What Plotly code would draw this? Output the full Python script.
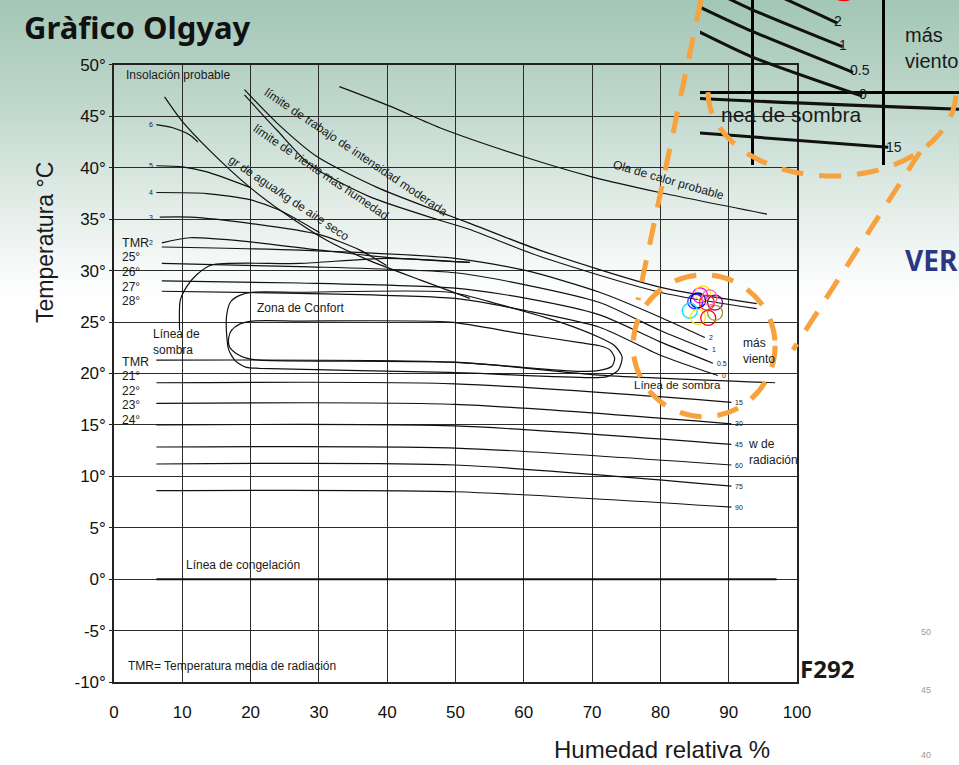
import numpy as np
import plotly.graph_objects as go

# ---------------- datos (x = humedad relativa %, y = temperatura °C) ----------------
x_ticks = list(range(0, 101, 10))
y_ticks = list(range(-10, 51, 5))
y_tick_text = [f"{v}°" for v in y_ticks]

insol_x = [7.4, 9.9, 14.0, 19.9, 24.7, 31.0, 37.0, 44.8, 52.1]
insol_y = [46.9, 44.6, 41.7, 38.1, 35.7, 33.0, 31.1, 29.1, 27.3]

vap6_x = [6.2, 8.6, 11.1, 12.3]
vap6_y = [44.2, 43.9, 43.2, 42.5]
vap5_x = [6.2, 10.0, 13.6, 19.9]
vap5_y = [40.2, 40.1, 39.6, 38.1]
vap4_x = [6.2, 13.6, 19.9, 24.2, 30.1]
vap4_y = [37.6, 37.5, 36.9, 35.9, 33.7]
vap3_x = [6.7, 11.1, 19.9, 30.1, 36.0, 39.9]
vap3_y = [35.2, 35.2, 34.6, 33.5, 32.0, 30.5]
vap2_x = [7.0, 11.1, 19.9, 30.1, 39.9, 52.1]
vap2_y = [32.7, 33.2, 32.8, 32.0, 31.3, 30.8]

lim_trabajo_x = [19.1, 23.8, 29.7, 38.5, 48.1, 52.1, 62.3, 79.9, 94.1]
lim_trabajo_y = [47.6, 44.4, 41.1, 38.1, 35.6, 34.6, 32.0, 28.4, 26.8]
lim_viento_x = [19.1, 23.8, 28.9, 37.4, 47.7, 52.1, 62.3, 79.9, 94.1]
lim_viento_y = [47.1, 43.7, 40.2, 37.2, 34.9, 34.0, 31.4, 27.9, 26.3]

ola_x = [33.0, 40.4, 47.7, 59.9, 70.1, 79.9, 95.6]
ola_y = [47.9, 46.0, 43.9, 41.1, 39.1, 37.6, 35.5]

wind_x = [7.0, 27.2, 49.9, 60.4, 71.1, 79.9]
wind2_y = [32.3, 32.0, 31.2, 30.0, 27.9, 25.5]
wind1_y = [30.7, 30.4, 29.8, 28.6, 26.9, 24.2]
wind05_y = [29.0, 28.8, 28.3, 27.3, 25.7, 23.1]
wind0_y = [28.0, 27.8, 27.3, 26.1, 24.5, 21.8]
wind_end_x = [86.5, 86.9, 87.7, 88.4]
wind_end_y = [23.5, 22.3, 21.0, 19.8]
wind_labels = ["2", "1", "0.5", "0"]

sombra_alta_x = [9.6, 9.7, 10.6, 12.1, 14.3, 27.2, 39.9, 52.1]
sombra_alta_y = [24.2, 27.1, 28.4, 29.6, 30.55, 30.7, 31.2, 30.8]
sombra_baja_x = [6.2, 49.9, 71.1, 96.8]
sombra_baja_y = [21.3, 21.1, 19.85, 19.1]

rad_x = [6.2, 49.9, 90.4]
rad_start_y = [19.1, 17.1, 15.0, 12.85, 11.2, 8.6]
rad_end_y = [17.2, 15.1, 13.1, 11.1, 9.05, 7.0]
rad_labels = ["15", "30", "45", "60", "75", "90"]

confort_ext_x = [27.2, 49.2, 56.5, 65.3, 71.1, 73.3, 74.4, 73.8, 72.2, 69.7, 49.2, 21.3,
                 19.4, 17.8, 16.8, 16.5, 16.5, 17.1, 18.4, 20.2, 27.2]
confort_ext_y = [27.9, 27.9, 26.7, 25.0, 23.5, 22.7, 21.6, 20.3, 19.7, 19.6, 20.1, 20.5,
                 20.6, 21.2, 22.3, 23.7, 25.7, 27.0, 27.6, 27.9, 27.9]
confort_int_x = [27.2, 49.2, 59.4, 68.2, 71.1, 72.6, 73.3, 72.9, 71.1, 68.2, 49.2, 21.3,
                 19.4, 18.0, 16.9, 16.8, 17.2, 18.4, 20.2, 27.2]
confort_int_y = [25.1, 25.0, 23.9, 23.0, 22.7, 22.3, 21.5, 20.7, 20.3, 20.2, 21.1, 21.3,
                 21.5, 21.9, 22.6, 23.5, 24.2, 24.8, 25.1, 25.1]

congelacion_x = [6.2, 97.0]
congelacion_y = [0, 0]

vap_labels = ["6", "5", "4", "3", "2"]
vap_label_y = [44.2, 40.2, 37.6, 35.2, 32.7]

pts_x = [85.8, 86.2, 85.1, 85.5, 84.3, 85.5, 87.0, 88.0, 88.0, 86.8, 87.2]
pts_y = [27.6, 27.8, 27.0, 27.1, 26.1, 25.5, 25.4, 26.9, 25.9, 26.9, 27.4]
pts_color = ["#ff00ff", "#ffe600", "#3030ff", "#0000a0", "#00e5ff", "#ffe600",
             "#ff0000", "#800080", "#9a9a30", "#ff2020", "#ff66aa"]

# ---------------- figura ----------------
FONT = "Liberation Sans"
INK = "#111111"


def px2paper(px, py):
    return (px - 114) / 845, (682 - py) / 682


def curve(fig, x, y, width=1.2, axes=("x", "y")):
    fig.add_trace(go.Scatter(x=x, y=y, mode="lines", xaxis=axes[0], yaxis=axes[1],
                             line=dict(color=INK, width=width, shape="spline", smoothing=0.7),
                             hoverinfo="skip", showlegend=False))


fig = go.Figure()

wind_lines = []
for wy, ex, ey in zip([wind2_y, wind1_y, wind05_y, wind0_y], wind_end_x, wind_end_y):
    wind_lines.append((wind_x + [ex], wy + [ey]))
rad_lines = [(rad_x, [s, s - 0.1, e]) for s, e in zip(rad_start_y, rad_end_y)]

main_curves = [
    (insol_x, insol_y), (vap6_x, vap6_y), (vap5_x, vap5_y), (vap4_x, vap4_y),
    (vap3_x, vap3_y), (vap2_x, vap2_y), (lim_trabajo_x, lim_trabajo_y),
    (lim_viento_x, lim_viento_y), (ola_x, ola_y), (sombra_alta_x, sombra_alta_y),
    (sombra_baja_x, sombra_baja_y), (confort_ext_x, confort_ext_y),
    (confort_int_x, confort_int_y),
] + wind_lines + rad_lines

for cx, cy in main_curves:
    curve(fig, cx, cy)
curve(fig, congelacion_x, congelacion_y, width=2)

fig.add_trace(go.Scatter(x=pts_x, y=pts_y, mode="markers", showlegend=False, hoverinfo="skip",
                         marker=dict(symbol="circle-open", size=15,
                                     line=dict(color=pts_color, width=1.3), color=pts_color)))

# ampliación (recuadro superior derecho)
for cx, cy in wind_lines + [(sombra_baja_x, sombra_baja_y), rad_lines[0], rad_lines[1]]:
    curve(fig, cx, cy, width=3, axes=("x2", "y2"))
fig.add_trace(go.Scatter(x=pts_x, y=pts_y, mode="markers", showlegend=False, hoverinfo="skip",
                         xaxis="x2", yaxis="y2",
                         marker=dict(symbol="circle-open", size=29,
                                     line=dict(color=pts_color, width=2.5), color=pts_color)))

ann = []


def label(text, x, y, size=12, anchor="left", angle=0, xref="x", yref="y", color="#1a1a1a",
          family=FONT, bold=False):
    ann.append(dict(text=f"<b>{text}</b>" if bold else text, x=x, y=y, xref=xref, yref=yref,
                    showarrow=False, xanchor=anchor, yanchor="middle", textangle=angle,
                    font=dict(family=family, size=size, color=color), align="left"))


label("Insolación probable", 1.5, 49.0)
for t, yy in zip(vap_labels, vap_label_y):
    label(t, 5.95, yy, size=7, anchor="right", color="#222")
label("TMR", 0.95, 32.7, size=12.5)
for t, yy in zip(["25°", "26°", "27°", "28°"], [31.3, 29.9, 28.4, 27.05]):
    label(t, 0.95, yy, size=12)
label("TMR", 0.95, 21.1, size=12.5)
for t, yy in zip(["21°", "22°", "23°", "24°"], [19.75, 18.3, 16.9, 15.5]):
    label(t, 0.95, yy, size=12)
label("Línea de<br>sombra", 5.35, 23.1)
label("Zona de Confort", 20.6, 26.4)
label("Línea de congelación", 10.2, 1.4)
label("TMR= Temperatura media de radiación", 1.7, -8.45)
label("Línea de sombra", 75.9, 18.9, size=11.5)
label("más<br>viento", 91.8, 22.2)
label("w de<br>radiación", 92.5, 12.4)
for t, ex, ey in zip(wind_labels, wind_end_x, wind_end_y):
    label(t, ex + 0.3, ey, size=7, color="#222")
for t, ey in zip(rad_labels, rad_end_y):
    label(t, 90.7, ey, size=7, color="#222")
label("límite de trabajo de intensidad moderada", 35.4, 41.5, anchor="center", angle=34)
label("límite de viento más humedad", 30.3, 39.6, anchor="center", angle=34)
label("gr de agua/kg de aire seco", 25.6, 37.1, anchor="center", angle=34)
label("Ola de calor probable", 81.2, 38.8, anchor="center", angle=16)

# textos del recuadro ampliado
for t, ex, ey in zip(wind_labels, wind_end_x, wind_end_y):
    label(t, ex - 0.4, ey + 0.1, size=14, xref="x2", yref="y2")
label("15", rad_x[-1] - 0.3, rad_end_y[0], size=14, xref="x2", yref="y2")
label("nea de sombra", 77.4, 18.85, size=21, xref="x2", yref="y2")
label("más<br>viento", 91.5, 22.24, size=20, xref="x2", yref="y2")

# textos de la diapositiva
x, y = px2paper(22, 27)
label("Gràfico Olgyay", x, y, size=31, xref="paper", yref="paper", family="Noto Sans", bold=True,
      color="#111")
x, y = px2paper(45, 243)
label("Temperatura °C", x, y, size=23, anchor="center", angle=-90, xref="paper", yref="paper")
x, y = px2paper(662, 750)
label("Humedad relativa %", x, y, size=24, anchor="center", xref="paper", yref="paper")
x, y = px2paper(827, 668)
label("F292", x, y, size=24, anchor="center", xref="paper", yref="paper", bold=True,
      family="Noto Sans")
x, y = px2paper(903, 260)
label("VER", x, y, size=28, xref="paper", yref="paper", bold=True, color="#2b3785",
      family="Noto Sans")
for t, py in zip(["50", "45", "40"], [632, 690, 755]):
    x, y = px2paper(926, py)
    label(t, x, y, size=9, anchor="center", xref="paper", yref="paper", color="#9a9a9a")

# fondo degradado de la diapositiva
shapes = []
stops_py = [0, 100, 180, 240, 285, 300]
stops_rgb = np.array([[163, 199, 183], [190, 215, 203], [218, 232, 225],
                      [238, 244, 241], [252, 253, 253], [255, 255, 255]])
for py in range(0, 300, 4):
    rgb = [int(np.interp(py + 2, stops_py, stops_rgb[:, k])) for k in range(3)]
    x0, y0 = px2paper(0, py)
    x1, y1 = px2paper(959, py + 4.6)
    shapes.append(dict(type="rect", xref="paper", yref="paper", x0=x0, x1=x1, y0=y1, y1=y0,
                       fillcolor=f"rgb({rgb[0]},{rgb[1]},{rgb[2]})", line=dict(width=0),
                       layer="below"))

ORANGE = "#f7a23c"
DASH = "22px,16px"
shapes.append(dict(type="circle", xref="x", yref="y", x0=76.0, x1=96.8, y0=15.8, y1=29.6,
                   line=dict(color=ORANGE, width=5, dash=DASH)))
for (ax, ay), (bx, by) in [((701, 0), (638, 300)), ((920, 152), (793, 350))]:
    x0, y0 = px2paper(ax, ay)
    x1, y1 = px2paper(bx, by)
    shapes.append(dict(type="line", xref="paper", yref="paper", x0=x0, y0=y0, x1=x1, y1=y1,
                       line=dict(color=ORANGE, width=5, dash=DASH)))
t = np.linspace(np.pi, 0, 40)
arc = [px2paper(832 + 124 * np.cos(a), 92 + 84 * np.sin(a)) for a in t]
path = "M " + " L ".join(f"{ax:.4f},{ay:.4f}" for ax, ay in arc)
shapes.append(dict(type="path", xref="paper", yref="paper", path=path,
                   line=dict(color=ORANGE, width=5, dash=DASH)))

tickfont = dict(family=FONT, size=17, color=INK)
inset_axis = dict(showgrid=True, tick0=0, gridcolor="#000", gridwidth=3, showticklabels=False,
                  zeroline=False, showline=False, ticks="", automargin=False)
fig.update_layout(
    width=959, height=765,
    margin=dict(l=114, r=0, t=0, b=83, autoexpand=False),
    paper_bgcolor="white", plot_bgcolor="rgba(0,0,0,0)",
    showlegend=False,
    xaxis=dict(domain=[0, 0.8083], range=[0, 100], tickvals=x_ticks, showgrid=True,
               gridcolor="#2b2b2b", gridwidth=1.3, showline=True, linecolor="#222",
               linewidth=1.5, mirror=True, zeroline=False, ticks="", tickfont=tickfont,
               ticklabelstandoff=14, automargin=False),
    yaxis=dict(domain=[0, 0.9047], range=[-10, 50], tickvals=y_ticks, ticktext=y_tick_text,
               showgrid=True, gridcolor="#2b2b2b", gridwidth=1.3, showline=True,
               linecolor="#222", linewidth=1.5, mirror=True, zeroline=False,
               ticks="outside", ticklen=3, tickcolor="#222", tickfont=tickfont,
               automargin=False),
    xaxis2=dict(domain=[0.6935, 1], range=[75.98, 95.82], anchor="y2", dtick=10, **inset_axis),
    yaxis2=dict(domain=[0.7581, 1], range=[16.30, 24.67], anchor="x2", dtick=5, **inset_axis),
    annotations=ann,
    shapes=shapes,
)

# la figura ocupa la ventana entera, sin el margen por defecto de la página
pin_to_corner = ("document.body.style.margin='0px';"
                 "var d=document.getElementById('{plot_id}');"
                 "d.style.position='fixed';d.style.left='0px';d.style.top='0px';")
fig.write_html("out.html", config={"responsive": False, "displayModeBar": False},
               post_script=pin_to_corner)
